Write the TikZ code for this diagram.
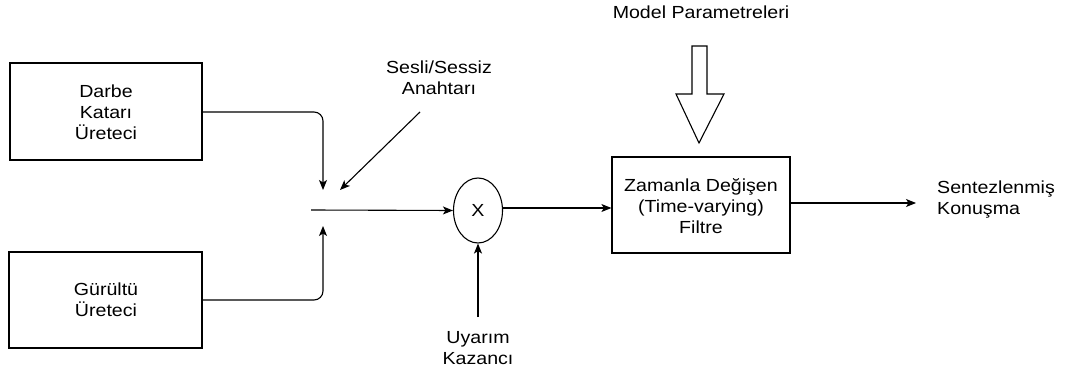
\documentclass[tikz,border=0pt]{standalone}
\usepackage{fontspec}
\setmainfont{Liberation Sans}[FakeStretch=1.12]
\usetikzlibrary{arrows.meta,shapes.geometric}
\begin{document}
\begin{tikzpicture}[x=1pt,y=-1pt,
  every node/.style={font=\fontsize{17.5}{21}\selectfont, inner sep=0pt},
  blk/.style={draw, line width=1.2pt, align=center},
  lbl/.style={align=center},
  conn/.style={line width=1.1pt, -{Stealth[length=10pt,width=8pt,inset=2.5pt]}},
  plain/.style={line width=1.1pt}]
\useasboundingbox (0,0) rectangle (1066,374);
\node[blk, minimum width=192pt, minimum height=97pt] (darbe) at (106,111.5) {};
\node[lbl] at (106,112) {Darbe\\Katarı\\Üreteci};
\node[blk, minimum width=193pt, minimum height=96pt] (gur) at (105.5,300) {};
\node[lbl] at (106,300) {Gürültü\\Üreteci};
\node[blk, minimum width=178pt, minimum height=96pt] (filt) at (701,205) {};
\node[lbl] at (701,206) {Zamanla Değişen\\(Time-varying)\\Filtre};
\node[draw, ellipse, line width=1.1pt, minimum width=49pt, minimum height=65pt] (mul) at (478,210.5) {};
\node at (478,210) {X};
\node[lbl] (sw) at (439,77.5) {Sesli/Sessiz\\Anahtarı};
\node[lbl] (mp) at (701,12) {Model Parametreleri};
\node[lbl] (uk) at (478,348) {Uyarım\\Kazancı};
\node[align=left, anchor=west] (out) at (937,200) {Sentezlenmiş\\Konuşma};
\coordinate (t1) at (323,190);
\coordinate (t2) at (323,226);
\coordinate (hs) at (311,210);
\coordinate (sws) at (420,112);
\coordinate (swe) at (340,190);
\coordinate (uks) at (478,317);
\coordinate (oe) at (916,203);
% connectors
\draw[conn, rounded corners=9pt] (darbe.east |- 0,112) -- (323,112) -- (t1);
\draw[conn, rounded corners=9pt] (gur.east |- 0,300) -- (323,300) -- (t2);
\draw[conn] (sws) -- (swe);
\draw[conn] (hs) -- (mul.west);
\draw[conn] (mul.east |- 0,208) -- (filt.west |- 0,208);
\draw[conn] (uks) -- (mul.south);
\draw[conn] (filt.east |- 0,203) -- (oe);
% big hollow arrow
\draw[line width=1.1pt, line join=miter] (692,46) -- (707,46) -- (707,94) -- (724,94) -- (699,143) -- (676,94) -- (692,94) -- cycle;
\end{tikzpicture}
\end{document}
